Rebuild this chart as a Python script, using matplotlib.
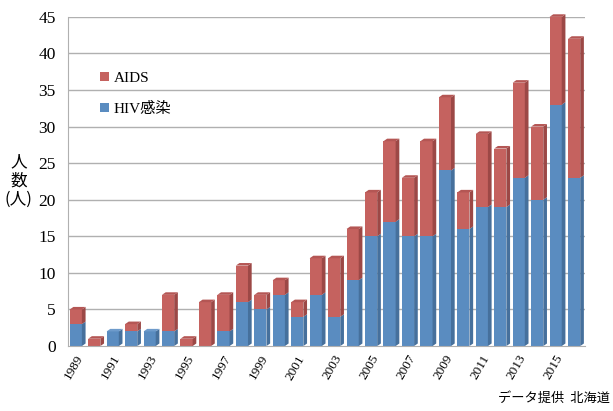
import matplotlib
matplotlib.use("Agg")
import matplotlib.pyplot as plt
from matplotlib.patches import Polygon, Patch
import numpy as np

years = list(range(1989, 2017))
hiv = [3, 0, 2, 2, 2, 2, 0, 0, 2, 6, 5, 7, 4, 7, 4, 9, 15, 17, 15, 15, 24, 16, 19, 19, 23, 20, 33, 23]
aids = [2, 1, 0, 1, 0, 5, 1, 6, 5, 5, 2, 2, 2, 5, 8, 7, 6, 11, 8, 13, 10, 5, 10, 8, 13, 10, 12, 19]
yticks = [0, 5, 10, 15, 20, 25, 30, 35, 40, 45]
xtick_labels = [str(y) for y in years[::2]]

blue = "#5a8cc0"
blue_side = "#46709c"
red = "#c5625f"
red_side = "#9c4846"
red_top = "#b45654"
blue_top = "#6e9bcb"

plt.rcParams['font.family'] = ['Liberation Serif', 'Noto Sans CJK JP']

fig = plt.figure(figsize=(6.13, 4.11), dpi=100)
ax = fig.add_axes([0.111, 0.158, 0.843, 0.801])

x = np.arange(len(years))
w = 0.66
off = -0.08
dx = 0.2
dy = 0.35

for yv in yticks[1:]:
    ax.axhline(yv, color="#b0b0b0", lw=1.0, zorder=0)

def draw_seg(xc, y0, h, face, side, top, drawtop):
    if h <= 0:
        return
    l = xc + off - w / 2
    r = xc + off + w / 2
    ax.add_patch(plt.Rectangle((l, y0), w, h, facecolor=face, edgecolor="none", zorder=2, clip_on=False))
    ax.add_patch(Polygon([(r, y0), (r + dx, y0 + dy), (r + dx, y0 + h + dy), (r, y0 + h)],
                         closed=True, facecolor=side, edgecolor="none", zorder=2, clip_on=False))
    if drawtop:
        ax.add_patch(Polygon([(l, y0 + h), (r, y0 + h), (r + dx, y0 + h + dy), (l + dx, y0 + h + dy)],
                             closed=True, facecolor=top, edgecolor="none", zorder=2, clip_on=False))

for i in range(len(years)):
    draw_seg(x[i], 0, hiv[i], blue, blue_side, blue_top, aids[i] == 0)
    draw_seg(x[i], hiv[i], aids[i], red, red_side, red_top, True)

ax.set_xlim(-0.5, len(years) - 0.5)
ax.set_ylim(0, 45)
ax.set_yticks(yticks)
ax.set_yticklabels([str(v) for v in yticks], fontsize=12.5)
ax.set_xticks(x[::2] - 0.1)
ax.set_xticklabels(xtick_labels, rotation=60, fontsize=9.5, ha="right", rotation_mode="anchor")
ax.tick_params(axis="x", length=0, pad=5)
ax.tick_params(axis="y", length=0, pad=9)
for s in ["top", "right"]:
    ax.spines[s].set_visible(False)
ax.spines["left"].set_color("#b0b0b0")
ax.spines["bottom"].set_color("#b0b0b0")

handles = [Patch(facecolor=red, edgecolor="none", label="AIDS"),
           Patch(facecolor=blue, edgecolor="none", label="HIV感染")]
leg = ax.legend(handles=handles, loc="upper left", bbox_to_anchor=(0.035, 0.875), frameon=False,
                handlelength=0.6, handleheight=0.6, handletextpad=0.3, labelspacing=1.1,
                prop={'family': ['Liberation Serif', 'Noto Sans CJK JP'], 'size': 11})

fig.text(0.03, 0.56, "人\n数\n(人)", ha="center", va="center", fontsize=12,
         family=['Noto Sans CJK JP'], linespacing=1.15)
fig.text(0.995, 0.015, "データ提供  北海道", ha="right", va="bottom", fontsize=9.5,
         family=['Noto Sans CJK JP'])

fig.savefig("out.png", dpi=100)
